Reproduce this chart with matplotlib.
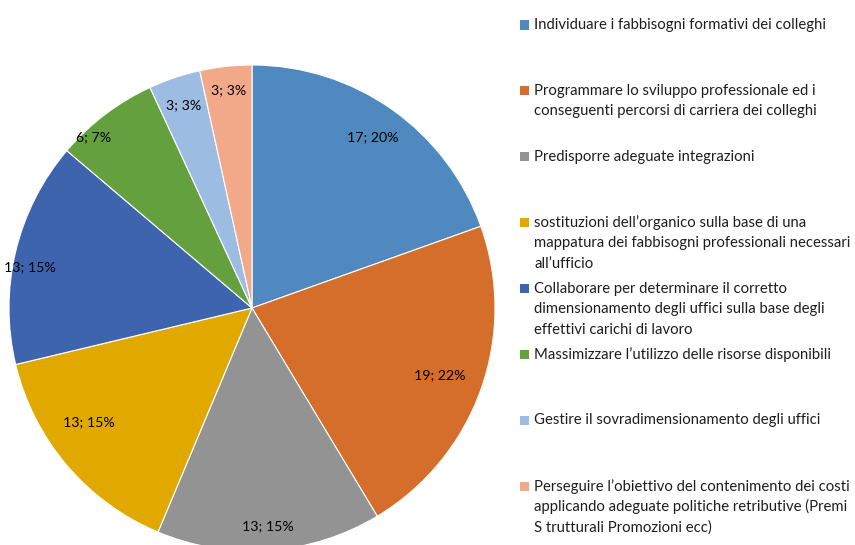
import matplotlib
matplotlib.use('Agg')
import matplotlib.pyplot as plt
from matplotlib.patches import Rectangle
import numpy as np

plt.rcParams['font.family'] = ['Lato', 'DejaVu Sans']

labels = [
	'Individuare i fabbisogni formativi dei colleghi',
	'Programmare lo sviluppo professionale ed i\nconseguenti percorsi di carriera dei colleghi',
	'Predisporre adeguate integrazioni',
	'sostituzioni dell\u2019organico sulla base di una\nmappatura dei fabbisogni professionali necessari\nall\u2019ufficio',
	'Collaborare per determinare il corretto\ndimensionamento degli uffici sulla base degli\neffettivi carichi di lavoro',
	'Massimizzare l\u2019utilizzo delle risorse disponibili',
	'Gestire il sovradimensionamento degli uffici',
	'Perseguire l\u2019obiettivo del contenimento dei costi\napplicando adeguate politiche retributive (Premi\nS trutturali Promozioni ecc)',
]
values = [17, 19, 13, 13, 13, 6, 3, 3]
colors = ['#4F89C0', '#D46E2A', '#939393', '#E1A900', '#3E64AE', '#64A03D', '#9CBCE1', '#F1A98A']

# "best fit" label placement, as in the original:
# radius (fraction of pie radius) and angle shift from slice middle (degrees)
label_r = [0.86, 0.82, 0.90, 0.82, 0.93, 0.96, 0.88, 0.90]
label_shift = [0, 0, 0, -5.5, 3, 5.5, 0, 0]

W, H = 855, 545
fig = plt.figure(figsize=(W / 100, H / 100), dpi=100)

# pie box in pixels: centre (252, 308), radius 243
cx, cy, r = 252, 308, 243
ax = fig.add_axes([(cx - r) / W, (H - cy - r) / H, 2 * r / W, 2 * r / H])
total = sum(values)

wedges, texts, autotexts = ax.pie(
	values, colors=colors, startangle=90, counterclock=False,
	autopct=lambda p: f'{round(p * total / 100)}; {p:.0f}%',
	wedgeprops=dict(edgecolor='white', linewidth=0.8),
	textprops=dict(fontsize=10.2, color='black'))
for w, t, lr, sh in zip(wedges, autotexts, label_r, label_shift):
	ang = np.deg2rad((w.theta1 + w.theta2) / 2 + sh)
	t.set_position((lr * np.cos(ang), lr * np.sin(ang)))
ax.set_xlim(-1, 1)
ax.set_ylim(-1, 1)
ax.axis('off')

# legend drawn by hand, entries evenly spaced like the original
line_h = 20.5
for i, (lab, col) in enumerate(zip(labels, colors)):
	y = 25 + i * 65.9
	fig.patches.append(Rectangle((520 / W, (H - y - 4.5) / H), 9 / W, 9 / H,
		transform=fig.transFigure, facecolor=col, edgecolor='none'))
	for j, line in enumerate(lab.split('\n')):
		fig.text(534 / W, (H - y - j * line_h) / H, line, fontsize=10.7,
			color='#1e1e1e', va='center', ha='left')

fig.savefig('out.png', dpi=100)
